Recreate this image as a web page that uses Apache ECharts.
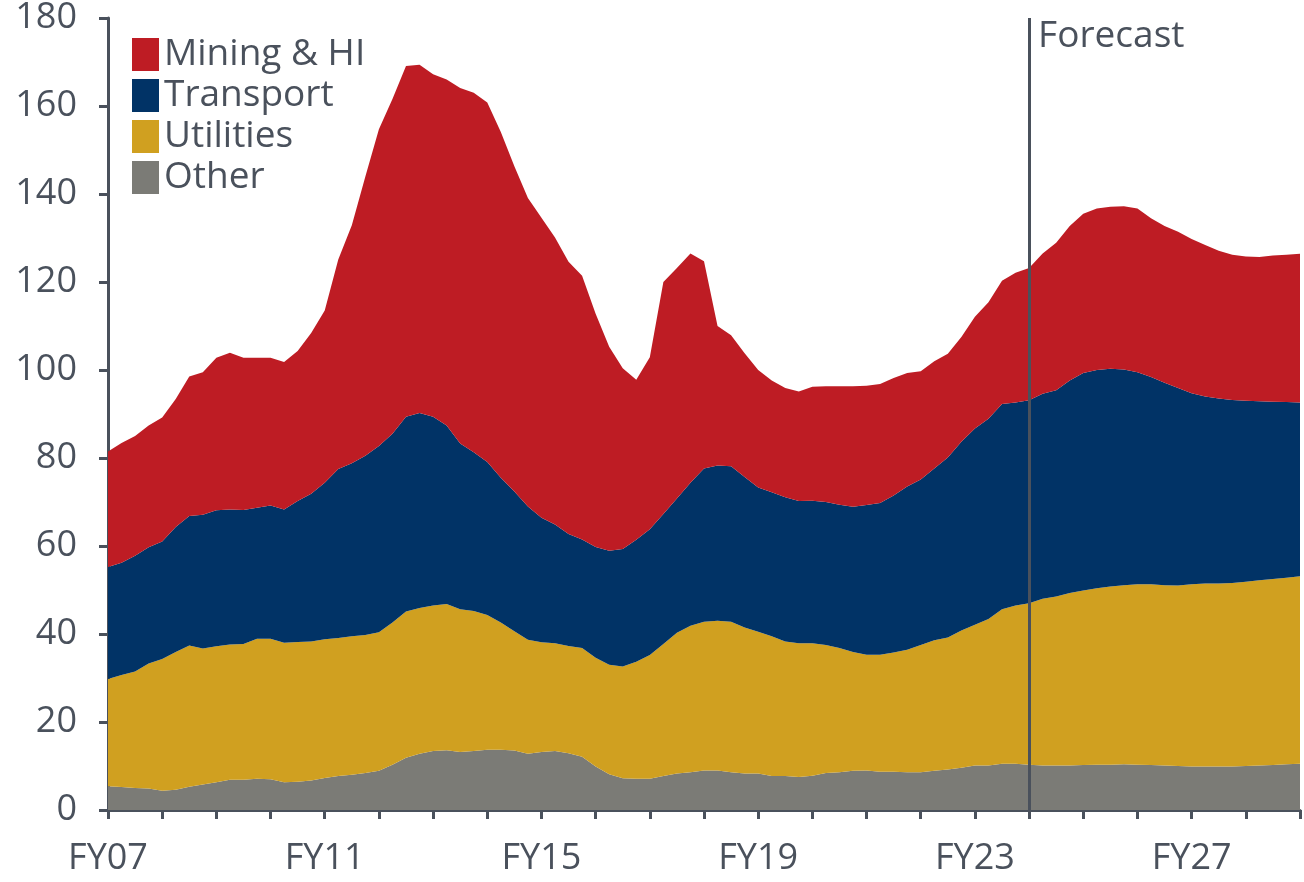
<!DOCTYPE html>
<html>
<head>
<meta charset="utf-8">
<title>Capital spending by sector</title>
<script src="https://cdn.jsdelivr.net/npm/echarts@6/dist/echarts.min.js"></script>
<style>
  html, body { margin: 0; padding: 0; background: #ffffff; }
  #chart { width: 1304px; height: 882px; }
</style>
</head>
<body>
<div id="chart"></div>
<script>
// Fiscal years on the axis; each year holds four quarterly points, plus the closing point at FY29.
const fiscalYears = ['FY07','FY08','FY09','FY10','FY11','FY12','FY13','FY14','FY15','FY16','FY17',
  'FY18','FY19','FY20','FY21','FY22','FY23','FY24','FY25','FY26','FY27','FY28','FY29'];
const quarterSuffix = ['', ' Q2', ' Q3', ' Q4'];
const categories = [];
fiscalYears.forEach((fy, i) => {
  if (i === fiscalYears.length - 1) { categories.push(fy); return; }
  quarterSuffix.forEach(q => categories.push(fy + q));
});

const forecastStart = 'FY24';
const yTicks = { min: 0, max: 180, step: 20 };

// Quarterly values, bottom of the stack first
const other = [
  5.4, 5.2, 5.0, 4.9, 4.4, 4.6, 5.3, 5.8, 6.3, 6.9, 6.9, 7.1, 7.0, 6.3, 6.4, 6.7,
  7.3, 7.7, 8.0, 8.4, 8.9, 10.3, 11.9, 12.8, 13.4, 13.6, 13.2, 13.4, 13.7, 13.7, 13.5, 12.8,
  13.2, 13.4, 12.9, 12.1, 9.9, 8.1, 7.2, 7.1, 7.1, 7.7, 8.3, 8.6, 9.0, 9.0, 8.6, 8.3,
  8.3, 7.7, 7.7, 7.5, 7.8, 8.4, 8.6, 8.9, 9.0, 8.7, 8.7, 8.6, 8.6, 8.9, 9.2, 9.6,
  10.1, 10.1, 10.5, 10.5, 10.3, 10.1, 10.1, 10.1, 10.2, 10.3, 10.3, 10.4, 10.3, 10.2, 10.1, 10.0,
  9.9, 9.9, 9.9, 9.9, 10.0, 10.1, 10.2, 10.4, 10.5
];
const utilities = [
  24.4, 25.5, 26.5, 28.4, 29.9, 31.3, 32.1, 30.9, 30.9, 30.7, 30.8, 31.8, 31.9, 31.7, 31.8, 31.6,
  31.5, 31.4, 31.5, 31.4, 31.5, 32.3, 33.2, 33.1, 33.1, 33.2, 32.4, 31.8, 30.6, 28.9, 27.1, 25.9,
  24.9, 24.5, 24.4, 24.7, 24.7, 24.9, 25.4, 26.6, 28.1, 30.0, 32.0, 33.3, 33.8, 34.0, 34.2, 33.2,
  32.2, 31.8, 30.6, 30.4, 30.1, 29.1, 28.2, 27.0, 26.3, 26.6, 27.1, 27.8, 28.9, 29.7, 30.0, 31.2,
  32.0, 33.3, 35.1, 36.0, 36.7, 37.9, 38.4, 39.2, 39.7, 40.1, 40.5, 40.7, 41.0, 41.1, 41.0, 41.0,
  41.4, 41.6, 41.6, 41.7, 41.9, 42.1, 42.3, 42.4, 42.6
];
const transport = [
  25.4, 25.5, 26.3, 26.4, 26.7, 28.4, 29.4, 30.4, 30.9, 30.7, 30.5, 29.8, 30.3, 30.3, 32.0, 33.6,
  35.6, 38.4, 39.3, 40.7, 42.3, 42.9, 44.3, 44.3, 42.9, 40.6, 37.7, 36.1, 34.8, 32.9, 31.8, 30.3,
  28.3, 27.0, 25.4, 24.7, 25.2, 25.9, 26.7, 27.7, 28.6, 29.6, 30.5, 32.5, 34.8, 35.3, 35.3, 34.2,
  32.8, 32.7, 32.8, 32.3, 32.4, 32.5, 32.6, 33.0, 34.0, 34.5, 35.7, 37.1, 37.6, 39.0, 40.9, 42.9,
  44.6, 45.5, 46.7, 46.1, 46.1, 46.6, 46.9, 48.3, 49.4, 49.6, 49.5, 49.0, 48.2, 47.1, 46.0, 44.9,
  43.4, 42.5, 42.0, 41.6, 41.1, 40.7, 40.3, 39.9, 39.5
];
const miningHI = [
  26.3, 27.2, 27.2, 27.7, 28.2, 29.1, 31.7, 32.4, 34.7, 35.6, 34.6, 34.1, 33.6, 33.5, 34.1, 36.5,
  39.1, 47.6, 54.1, 63.5, 72.0, 76.1, 79.7, 79.2, 77.8, 78.6, 80.8, 81.7, 81.7, 78.6, 73.9, 70.1,
  68.2, 65.2, 61.9, 59.9, 53.0, 46.4, 41.1, 36.4, 39.1, 52.7, 52.4, 52.1, 47.1, 31.7, 29.8, 28.1,
  26.7, 25.4, 24.8, 24.9, 25.9, 26.3, 26.9, 27.4, 27.1, 27.0, 26.7, 25.8, 24.6, 24.4, 23.6, 23.8,
  25.4, 26.5, 28.0, 29.5, 30.1, 31.9, 33.5, 35.1, 36.2, 36.7, 36.8, 37.1, 37.2, 36.1, 35.6, 35.5,
  35.1, 34.4, 33.6, 33.0, 32.8, 32.8, 33.2, 33.5, 33.8
];

const seriesNames = ['Mining & HI', 'Transport', 'Utilities', 'Other'];
const colours = {
  'Mining & HI': '#be1c24',
  'Transport': '#013366',
  'Utilities': '#d0a020',
  'Other': '#7b7b76'
};
const ink = '#4a515c';
const font = '"Open Sans", "Noto Sans", sans-serif';

function areaSeries(name, values, extra) {
  return Object.assign({
    name: name,
    type: 'line',
    stack: 'total',
    data: values,
    symbol: 'none',
    showSymbol: false,
    lineStyle: { width: 0 },
    itemStyle: { color: colours[name] },
    areaStyle: { color: colours[name], opacity: 1 },
    emphasis: { disabled: true },
    silent: true,
    z: 2
  }, extra || {});
}

const chart = echarts.init(document.getElementById('chart'), null, { renderer: 'canvas' });

chart.setOption({
  animation: false,
  backgroundColor: '#ffffff',
  textStyle: { fontFamily: font },
  grid: { left: 108, right: 4, top: 18, bottom: 72, containLabel: false, outerBoundsMode: 'none' },
  legend: {
    data: seriesNames,
    orient: 'vertical',
    left: 127,
    top: 31,
    itemWidth: 27,
    itemHeight: 33,
    itemGap: 4,
    icon: 'rect',
    selectedMode: false,
    textStyle: { color: ink, fontSize: 37, fontFamily: font }
  },
  xAxis: {
    type: 'category',
    data: categories,
    boundaryGap: false,
    axisLine: { show: true, lineStyle: { color: ink, width: 3 } },
    axisTick: {
      show: true,
      length: 9,
      lineStyle: { color: ink, width: 3 },
      interval: (idx) => idx % 4 === 0
    },
    axisLabel: {
      interval: (idx) => idx % 16 === 0,
      formatter: (v) => v.split(' ')[0],
      color: ink,
      fontSize: 36,
      fontFamily: font,
      margin: 31
    },
    splitLine: { show: false }
  },
  yAxis: {
    type: 'value',
    min: yTicks.min,
    max: yTicks.max,
    interval: yTicks.step,
    axisLine: { show: true, lineStyle: { color: ink, width: 3 } },
    axisTick: { show: true, length: 9, lineStyle: { color: ink, width: 3 } },
    axisLabel: { color: ink, fontSize: 36, fontFamily: font, margin: 31 },
    splitLine: { show: false }
  },
  series: [
    areaSeries('Other', other),
    areaSeries('Utilities', utilities),
    areaSeries('Transport', transport),
    areaSeries('Mining & HI', miningHI, {
      markLine: {
        silent: true,
        symbol: 'none',
        z: 5,
        lineStyle: { color: ink, width: 3, type: 'solid' },
        label: { show: false },
        data: [{ xAxis: forecastStart }]
      }
    })
  ]
});

// "Forecast" caption placed just right of the forecast divider
const dividerX = chart.convertToPixel({ xAxisIndex: 0 }, forecastStart);
const topY = chart.convertToPixel({ yAxisIndex: 0 }, yTicks.max);
chart.setOption({
  graphic: [{
    type: 'text',
    left: dividerX + 9,
    top: topY,
    style: { text: 'Forecast', fill: ink, font: '37px ' + font }
  }]
});
</script>
</body>
</html>
